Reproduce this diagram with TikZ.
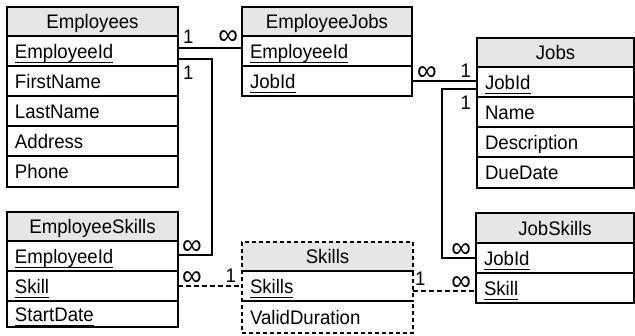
\documentclass[tikz,border=0pt]{standalone}
\usepackage{fontspec}
\setmainfont{Liberation Sans}[FakeStretch=0.95]
\usetikzlibrary{positioning}
\definecolor{hdrgray}{RGB}{230,230,230}
% key field: underline at a fixed depth
\newcommand{\keyfld}[1]{\setbox0\hbox{#1}\rlap{\rule[-4.5pt]{\wd0}{1pt}}\box0}

\begin{document}
\begin{tikzpicture}[x=1pt,y=-1pt,
    every node/.style={font=\fontsize{19.6}{21}\selectfont, outer sep=0pt},
    tbl/.style={anchor=north west, draw, line width=1.2pt, minimum height=30pt, text height=14pt, text depth=0pt},
    hdr/.style={tbl, fill=hdrgray, text width=#1, align=center, inner xsep=0pt, minimum height=29pt},
    fld/.style={tbl, text width=#1, align=left, inner xsep=8pt},
    dsh/.style={dash pattern=on 4pt off 3pt},
    conn/.style={line width=1.6pt},
    cdsh/.style={dash pattern=on 5pt off 3pt},
    lbl/.style={inner sep=0pt},
    inf/.style={inner sep=0pt, font=\fontsize{29}{29}\selectfont}]
    \useasboundingbox (0,0) rectangle (635,335);
    % Employees
    \node[hdr=171pt] (emp) at (7,7) {Employees};
    \node[fld=155pt, below=0pt of emp] (emp-id) {\keyfld{EmployeeId}};
    \node[fld=155pt, below=0pt of emp-id] (emp-fn) {FirstName};
    \node[fld=155pt, below=0pt of emp-fn] (emp-ln) {LastName};
    \node[fld=155pt, below=0pt of emp-ln] (emp-ad) {Address};
    \node[fld=155pt, below=0pt of emp-ad, minimum height=31pt] (emp-ph) {Phone};
    % EmployeeJobs
    \node[hdr=170pt] (ej) at (242,7) {EmployeeJobs};
    \node[fld=154pt, below=0pt of ej] (ej-id) {\keyfld{EmployeeId}};
    \node[fld=154pt, below=0pt of ej-id] (ej-job) {\keyfld{JobId}};
    % Jobs
    \node[hdr=157pt] (jobs) at (477,38) {Jobs};
    \node[fld=141pt, below=0pt of jobs] (jobs-id) {\keyfld{JobId}};
    \node[fld=141pt, below=0pt of jobs-id] (jobs-nm) {Name};
    \node[fld=141pt, below=0pt of jobs-nm] (jobs-ds) {Description};
    \node[fld=141pt, below=0pt of jobs-ds, minimum height=31pt] (jobs-dd) {DueDate};
    % EmployeeSkills
    \node[hdr=171pt] (es) at (7,212) {EmployeeSkills};
    \node[fld=155pt, below=0pt of es] (es-id) {\keyfld{EmployeeId}};
    \node[fld=155pt, below=0pt of es-id] (es-skill) {\keyfld{Skill}};
    \node[fld=155pt, below=0pt of es-skill, minimum height=26pt] (es-sd) {\keyfld{StartDate}};
    % Skills (dashed outline)
    \node[hdr=171pt, dsh] (sk) at (242,242) {Skills};
    \node[fld=155pt, dsh, below=0pt of sk] (sk-skill) {\keyfld{Skills}};
    \node[fld=155pt, dsh, below=0pt of sk-skill, minimum height=32pt] (sk-vd) {ValidDuration};
    \draw[line width=1.2pt] (sk.south west) -- (sk.south east);
    \draw[line width=1.2pt] (sk-skill.south west) -- (sk-skill.south east);
    % JobSkills
    \node[hdr=158pt, minimum height=30pt] (js) at (476,213) {JobSkills};
    \node[fld=142pt, below=0pt of js] (js-id) {\keyfld{JobId}};
    \node[fld=142pt, below=0pt of js-id] (js-skill) {\keyfld{Skill}};
    % relations
    \draw[conn] ([yshift=3pt]emp-id.east) -- ([yshift=3pt]ej-id.west)
        node[lbl, pos=0, above right=5pt and 5pt] (r1a) {1}
        node[inf, pos=1, above left=4pt and 4pt] (r1b) {∞};
    \draw[conn] ([yshift=-8pt]emp-id.east)
        node[lbl, below right=7pt and 5pt] (r2a) {1}
        -- ++(34,0) |- ([yshift=1pt]es-id.east)
        node[inf, pos=1, above right=1pt and 4pt] (r2b) {∞};
    \draw[conn] (ej-job.east) -- (ej-job.east -| jobs-id.west)
        node[inf, pos=0, above right=1pt and 5pt] (r3a) {∞}
        node[lbl, pos=1, above left=4pt and 6pt] (r3b) {1};
    \draw[conn] ([yshift=-7pt]jobs-id.west)
        node[lbl, below left=7pt and 6pt] (r4a) {1}
        -- ++(-35,0) |- (js-id.west)
        node[inf, pos=1, above left=1pt and 5pt] (r4b) {∞};
    \draw[conn, cdsh] (es-skill.east) -- (sk-skill.west)
        node[inf, pos=0, above right=1pt and 4pt] (r5a) {∞}
        node[lbl, pos=1, above left=4pt and 6pt] (r5b) {1};
    \draw[conn, cdsh] ([yshift=-5pt]sk-skill.east) -- ([yshift=-5pt]sk-skill.east -| js-skill.west)
        node[lbl, pos=0, above right=6pt and 2pt] (r6a) {1}
        node[inf, pos=1, above left=1pt and 5pt] (r6b) {∞};
\end{tikzpicture}
\end{document}
